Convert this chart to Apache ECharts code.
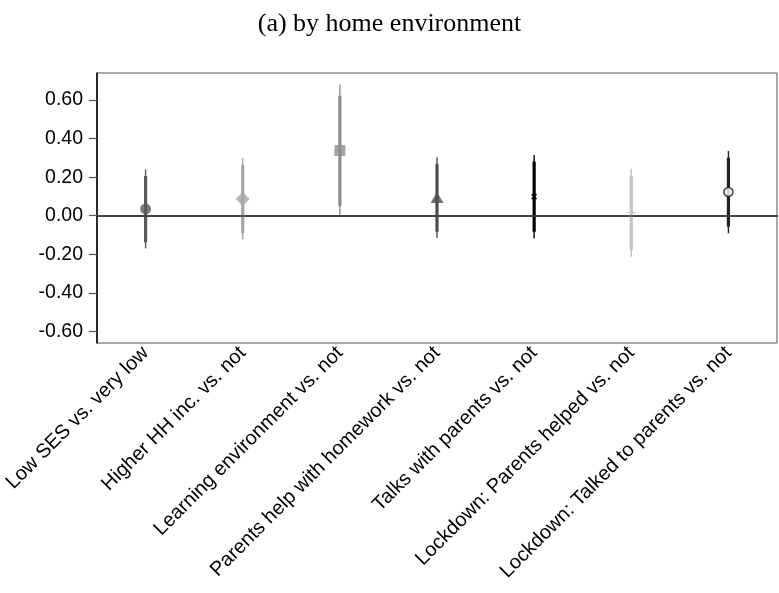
<!DOCTYPE html>
<html>
<head>
<meta charset="utf-8">
<script src="https://cdn.jsdelivr.net/npm/echarts@6/dist/echarts.min.js"></script>
<style>html,body{margin:0;padding:0;background:#fff;}#c{width:779px;height:593px;}</style>
</head>
<body>
<div id="c"></div>
<script>
var categories = ["Low SES vs. very low", "Higher HH inc. vs. not", "Learning environment vs. not", "Parents help with homework vs. not", "Talks with parents vs. not", "Lockdown: Parents helped vs. not", "Lockdown: Talked to parents vs. not"];
var estimates = [0.035, 0.087, 0.338, 0.095, 0.099, 0.016, 0.123];
var ci95Lo = [-0.170, -0.123, 0.000, -0.114, -0.117, -0.213, -0.091];
var ci95Hi = [0.240, 0.300, 0.679, 0.303, 0.315, 0.244, 0.336];
var ci90Lo = [-0.138, -0.091, 0.050, -0.083, -0.083, -0.178, -0.057];
var ci90Hi = [0.206, 0.263, 0.622, 0.268, 0.281, 0.206, 0.301];
var yTicks = [-0.6, -0.4, -0.2, 0.0, 0.2, 0.4, 0.6];

var colors = ['#595959', '#a6a6a6', '#8c8c8c', '#4d4d4d', '#000000', '#c4c4c4', '#222222'];
var symbols = ['circle', 'diamond', 'rect', 'triangle', 'path://M0,0L10,10M10,0L0,10', 'path://M5,0L5,10M0,5L10,5', 'circle'];
var sizes = [11, 14, 11, [13, 11], 5, [9, 7], 9];

var ciData = categories.map(function (c, i) { return [i, ci95Lo[i], ci95Hi[i], ci90Lo[i], ci90Hi[i]]; });
var ptData = categories.map(function (c, i) {
  var hollow = (i === 6);
  var strokeOnly = (i === 4 || i === 5);
  return {
    value: [i, estimates[i]],
    symbol: symbols[i],
    symbolSize: sizes[i],
    itemStyle: {
      color: hollow ? '#ffffff' : colors[i],
      borderColor: colors[i],
      borderWidth: hollow ? 1.7 : (strokeOnly ? 1.6 : 0)
    }
  };
});

var chart = echarts.init(document.getElementById('c'), null, {renderer: 'canvas'});
chart.setOption({
  animation: false,
  backgroundColor: '#ffffff',
  title: {
    text: '(a) by home environment',
    left: 'center',
    top: 6,
    textStyle: {fontFamily: 'Liberation Serif', fontSize: 26, fontWeight: 'normal', color: '#000'}
  },
  grid: {left: 97, right: 2, top: 73, bottom: 250, show: true, borderColor: '#555', borderWidth: 1},
  xAxis: {
    type: 'category',
    data: categories,
    boundaryGap: true,
    axisLine: {lineStyle: {color: '#000', width: 1.5}},
    axisTick: {alignWithLabel: true, length: 7, lineStyle: {color: '#333', width: 1.2}},
    axisLabel: {rotate: 45, interval: 0, fontFamily: 'Liberation Sans', fontSize: 20, color: '#000', margin: 7}
  },
  yAxis: {
    type: 'value',
    min: -0.66,
    max: 0.74,
    splitLine: {show: false},
    axisLine: {show: true, lineStyle: {color: '#000', width: 1.5}},
    axisTick: {show: true, length: 8, customValues: yTicks, lineStyle: {color: '#555', width: 1.2}},
    axisLabel: {
      customValues: yTicks,
      fontFamily: 'Liberation Sans', fontSize: 19.5, color: '#000', margin: 14,
      formatter: function (v) { return v.toFixed(2); }
    }
  },
  series: [
    {
      type: 'custom',
      data: ciData,
      encode: {x: 0, y: [1, 2, 3, 4]},
      z: 3,
      renderItem: function (params, api) {
        var i = api.value(0);
        var a = api.coord([i, api.value(1)]);
        var b = api.coord([i, api.value(2)]);
        var c = api.coord([i, api.value(3)]);
        var d = api.coord([i, api.value(4)]);
        var col = colors[params.dataIndex];
        return {
          type: 'group',
          children: [
            {type: 'line', shape: {x1: a[0], y1: a[1], x2: b[0], y2: b[1]}, style: {stroke: col, lineWidth: 1.4}},
            {type: 'line', shape: {x1: c[0], y1: c[1], x2: d[0], y2: d[1]}, style: {stroke: col, lineWidth: 3.2}}
          ]
        };
      }
    },
    {
      type: 'scatter',
      data: ptData,
      z: 4,
      markLine: {
        silent: true,
        symbol: 'none',
        label: {show: false},
        lineStyle: {color: '#444', width: 1.5, type: 'solid'},
        data: [{yAxis: 0}]
      }
    }
  ]
});
</script>
</body>
</html>
